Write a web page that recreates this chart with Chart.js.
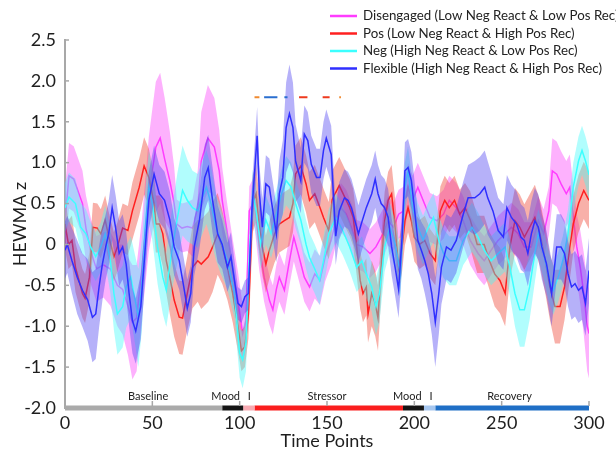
<!DOCTYPE html>
<html><head><meta charset="utf-8">
<script src="https://cdn.jsdelivr.net/npm/chart.js@4.4.1/dist/chart.umd.min.js"></script>
<style>html,body{margin:0;padding:0;background:#fff;}canvas{display:block;}</style>
</head><body>
<canvas id="c" width="616" height="452" style="width:616px;height:452px"></canvas>
<script>
// ---------- DATA ----------
const seriesNames = ['Disengaged (Low Neg React & Low Pos Rec)','Pos (Low Neg React & High Pos Rec)','Neg (High Neg React & Low Pos Rec)','Flexible (High Neg React & High Pos Rec)'];

const disT = [0,2.3,5,8,10,12,15,18,22,26, 30,33,36,38.6,41,44,48,52,54.5,57, 60,62.5,64,67,70,73,76,78,81.8,85.5, 88.3,90,93,96,99,101.7,103.6,105.5,108.4,111.3, 114,117,119,121,122.7,125.6,128.5,131,134,137, 140,143,146,149,152.4,155,158,161,164,167, 170.6,174.6,178,182,185,188,191,194,196.4,199, 202,205,209,213,216.7,220,224,228,232,236.5, 240,244,248,252,255.6,259.5,263,267,271,274, 277,279,281.5,284,287,289,291,293,295,297, 299,300];
const disV = [0.29,0.84,0.8,0.62,0.5,0.2,-0.1,-0.3,-0.25,-0.3, -0.5,-0.55,-0.75,-0.95,-0.9,-0.3,0.62,1.19,1.3,1.05, 0.78,0.5,0.25,0.2,0.22,0.2,0.45,1.02,1.3,1.19, 0.9,0.54,0.13,-0.28,-0.68,-1.09,-0.93,0.41,0.54,-0.03, -0.4,-0.68,-0.8,-0.55,-0.4,-0.56,-0.2,0.09,-0.15,-0.4, -0.52,-0.36,-0.44,-0.15,0.05,0.29,0.45,0.37,0.2,0.0, -0.03,-0.11,-0.03,0.13,0.29,0.21,0.37,0.41,0.7,0.54, 0.7,0.54,0.33,0.29,0.37,0.54,0.45,0.29,0.05,-0.11, -0.2,-0.07,0.05,0.13,0.21,0.13,-0.03,-0.03,0.29,0.13, 0.41,0.9,0.86,0.74,0.62,0.7,0.33,-0.03,-0.28,-0.6, -1.0,-1.09];
const disErr = [0.4,0.4,0.4,0.4,0.4,0.4,0.4,0.4,0.4,0.45, 0.5,0.55,0.6,0.7,0.65,0.6,0.7,0.8,0.8,0.75, 0.6,0.45,0.3,0.3,0.3,0.35,0.45,0.6,0.65,0.6, 0.5,0.4,0.35,0.35,0.35,0.35,0.35,0.3,0.3,0.3, 0.3,0.3,0.3,0.3,0.3,0.3,0.3,0.3,0.3,0.3, 0.3,0.3,0.3,0.3,0.3,0.3,0.3,0.3,0.3,0.3, 0.3,0.3,0.3,0.3,0.3,0.3,0.3,0.3,0.3,0.3, 0.3,0.3,0.3,0.3,0.3,0.3,0.3,0.3,0.3,0.3, 0.3,0.3,0.3,0.3,0.3,0.3,0.3,0.3,0.3,0.3, 0.3,0.4,0.4,0.4,0.4,0.4,0.4,0.4,0.45,0.5, 0.55,0.55];

const posT = [0,2,4,6,10,11.5,14,16,18.5,20.5, 23,25,28,30,33,36,38.6,42.5,45.3,48, 51,52,54,56,58,60,62.5,65.4,67.3,70, 73,76,78,82,84.5,87.4,90,93,96,99, 101,103,105,107.5,109.4,111.3,113,115,117,120, 122.7,125.6,128.5,130.5,132,135,138,140,143,146, 148,151,153,157,161,163,165,167,169,170.6, 172.5,173.5,175.6,177.6,179.2,181,183,185,187,189, 191,193,194.6,196.4,198.3,200,203,206,209,212, 214.9,217.4,220,223,226,229,232,236,240,243, 246,249,252,254.7,257.6,260.4,263,266,269,272, 275,277.6,280.5,283.4,286,289,291,294,297,300];
const posV = [0.25,0.0,0.05,-0.28,-0.6,-0.66,-0.4,0.21,0.2,0.13, 0.3,0.1,-0.15,-0.03,0.2,0.17,0.41,0.7,0.96,0.82, 0.5,0.25,0.25,0.13,-0.2,-0.4,-0.68,-0.89,-0.9,-0.6, -0.28,-0.2,-0.24,-0.15,-0.03,0.13,-0.03,-0.28,-0.6,-1.0, -1.3,-1.25,-0.85,0.5,0.62,0.21,-0.03,-0.24,-0.07,0.13, 0.25,0.29,0.33,0.5,0.86,0.96,0.74,0.54,0.62,0.45, 0.33,0.17,0.55,0.72,0.54,0.45,0.33,-0.03,-0.44,-0.6, -0.52,-0.85,-0.6,-0.72,-0.9,-0.28,0.29,0.54,0.62,0.21, -0.28,-0.03,0.29,0.45,0.29,0.09,0.0,0.05,-0.11,-0.2, 0.41,0.54,0.45,0.54,0.37,0.45,0.3,0.0,0.0,-0.2, -0.36,-0.44,-0.6,-0.03,0.29,0.21,0.09,0.21,0.33,0.13, -0.2,-0.52,-0.76,-0.76,-0.52,-0.03,0.25,0.5,0.66,0.54];
const posErr = [0.3,0.3,0.3,0.3,0.3,0.3,0.3,0.3,0.3,0.3, 0.3,0.3,0.3,0.3,0.3,0.3,0.35,0.35,0.35,0.35, 0.35,0.35,0.35,0.4,0.4,0.45,0.45,0.45,0.45,0.45, 0.5,0.5,0.55,0.55,0.55,0.5,0.45,0.4,0.35,0.3, 0.25,0.25,0.3,0.35,0.35,0.35,0.35,0.35,0.35,0.35, 0.35,0.35,0.35,0.35,0.35,0.35,0.35,0.35,0.35,0.35, 0.35,0.35,0.35,0.35,0.35,0.35,0.35,0.35,0.35,0.35, 0.35,0.35,0.4,0.4,0.4,0.35,0.35,0.35,0.35,0.35, 0.3,0.3,0.3,0.3,0.3,0.3,0.3,0.3,0.3,0.3, 0.3,0.3,0.3,0.3,0.3,0.3,0.35,0.35,0.35,0.35, 0.4,0.4,0.4,0.4,0.4,0.4,0.4,0.4,0.4,0.4, 0.4,0.4,0.45,0.45,0.4,0.4,0.35,0.35,0.35,0.35];

const negT = [0,2.3,6,9,12,14.7,17.6,20.5,23,26, 28,30,33,35,37.7,40.5,42,44,46,48, 50,53,56,58,61.5,64.4,67.3,70,73,76, 78,81,83.6,86.4,89,93,97,100,101.7,103.6, 105.5,107.5,109.4,112,115,118,121,124,126.6,129.5, 132,135,138,140,143,145.7,148,151,155,159, 163,167,170,172.5,175.6,178,180,183,186,189, 192,194.6,196.4,199,202,205,208,211,214,216.7, 220,224,228,233,236.5,240,244,248,252,254.7, 257.6,260.4,263,266,269,271,274,277,279.6,282.4, 285,288,291,294,296,298,300];
const negV = [0.45,0.58,0.5,0.21,0.13,-0.03,-0.15,-0.03,0.13,-0.2, -0.6,-0.85,-0.76,-0.52,-0.4,-0.72,-0.9,-0.5,0.2,0.7, 0.5,-0.03,-0.4,-0.56,-0.03,0.33,0.66,0.54,0.45,0.41, 0.54,0.7,0.5,0.21,0.05,-0.2,-0.6,-1.33,-1.41,-1.2, -0.2,0.62,0.41,0.0,0.3,0.13,0.37,0.62,0.78,0.7, 0.5,0.3,0.0,-0.16,-0.3,-0.44,-0.2,0.13,0.33,0.17, -0.03,-0.28,-0.2,-0.36,-0.52,-0.76,-0.6,-0.03,0.21,0.0, -0.36,0.7,0.9,0.45,0.21,0.05,0.21,0.33,0.05,-0.11, -0.2,-0.2,0.05,0.21,0.09,-0.07,-0.2,-0.11,-0.03,-0.28, -0.6,-0.8,-0.8,-0.52,-0.11,0.13,-0.11,-0.4,-0.56,-0.4, -0.2,0.13,0.7,1.02,1.15,1.02,0.85];
const negErr = [0.3,0.3,0.3,0.3,0.3,0.3,0.3,0.3,0.35,0.4, 0.45,0.5,0.5,0.5,0.5,0.55,0.6,0.55,0.45,0.45, 0.45,0.45,0.45,0.45,0.5,0.55,0.55,0.5,0.45,0.45, 0.45,0.45,0.45,0.4,0.4,0.35,0.3,0.3,0.35,0.35, 0.35,0.3,0.3,0.3,0.3,0.3,0.3,0.3,0.3,0.3, 0.3,0.3,0.3,0.3,0.3,0.3,0.3,0.3,0.3,0.3, 0.3,0.3,0.3,0.3,0.3,0.35,0.35,0.3,0.3,0.3, 0.3,0.3,0.3,0.3,0.3,0.3,0.3,0.3,0.3,0.3, 0.3,0.3,0.3,0.3,0.3,0.3,0.3,0.3,0.3,0.35, 0.4,0.45,0.45,0.4,0.35,0.3,0.3,0.3,0.3,0.3, 0.3,0.3,0.3,0.3,0.3,0.3,0.3];

const flxT = [0,1.3,4,7,10,13,15.7,17.6,19.5,21.4, 23.3,25,27,29,31,33,35,36.7,38.6,40.5, 43.4,46,48,51,54,57,60,62.5,65.4,68, 70,72,74,77,80,82,84.5,87.4,90,93, 95,97,99,101,103,105,107,110,111.3,113, 115,117,119,121,122.7,124.7,126.6,128.5,130.5,132, 135,137,139,141,144,146,148,149.6,152.4,155, 157,160,162,164,166,168,169.6,172.5,175.6,177.6, 179.2,181,183,185,187,189,191,193,194.6,196.4, 198.3,200,202,204,206,208,210,212,214,215.5, 218.4,221,224,228,230.8,234.6,237.5,240.3,242,245, 248,251,253,255.6,258.5,261,263,265,267,269, 271,273,275.7,278.6,281.5,284,286,288,290,292, 294,296,298,300];
const flxV = [-0.07,0.0,-0.2,-0.4,-0.56,-0.68,-0.89,-0.85,-0.52,-0.24, -0.03,0.13,0.45,0.2,-0.11,-0.03,-0.24,-0.6,-0.93,-1.06, -0.76,-0.03,0.54,0.86,0.62,0.54,0.3,-0.03,-0.2,-0.52, -0.78,-0.6,-0.03,0.3,0.82,0.94,0.54,0.13,0.0,-0.28, -0.15,-0.44,-0.72,-0.76,-0.64,-0.6,0.41,1.33,0.62,0.21, 0.74,0.7,0.41,0.13,0.62,0.82,1.43,1.6,1.43,1.02, 0.78,1.35,1.27,0.98,0.82,0.82,1.15,1.3,1.1,0.1, 0.41,0.57,0.54,0.45,0.29,0.13,0.25,0.45,0.62,0.8, 0.62,0.5,0.45,0.33,-0.03,-0.28,-0.55,0.09,0.9,0.94, 0.78,0.45,0.05,-0.07,-0.2,-0.36,-0.6,-0.95,-0.6,-0.28, -0.03,-0.07,0.05,0.37,0.57,0.57,0.62,0.7,0.57,0.41, 0.17,0.09,0.45,0.33,0.25,0.09,0.05,-0.11,0.13,0.29, 0.21,-0.03,-0.24,-0.6,-0.03,-0.03,-0.11,-0.36,-0.52,-0.48, -0.56,-0.52,-0.72,-0.32];
const flxErr = [0.35,0.35,0.4,0.45,0.45,0.5,0.55,0.55,0.5,0.45, 0.4,0.4,0.4,0.4,0.4,0.4,0.4,0.4,0.4,0.4, 0.4,0.35,0.35,0.35,0.35,0.35,0.35,0.35,0.35,0.35, 0.35,0.35,0.35,0.35,0.4,0.4,0.4,0.35,0.3,0.3, 0.3,0.25,0.2,0.2,0.2,0.2,0.3,0.35,0.35,0.35, 0.35,0.35,0.35,0.35,0.4,0.45,0.55,0.6,0.55,0.45, 0.4,0.35,0.35,0.35,0.35,0.35,0.35,0.35,0.35,0.35, 0.35,0.35,0.35,0.35,0.35,0.35,0.35,0.35,0.35,0.35, 0.35,0.35,0.35,0.35,0.35,0.35,0.35,0.35,0.35,0.35, 0.35,0.35,0.35,0.35,0.4,0.45,0.5,0.55,0.5,0.45, 0.4,0.4,0.4,0.4,0.4,0.45,0.45,0.45,0.45,0.4, 0.4,0.4,0.4,0.4,0.4,0.4,0.4,0.4,0.4,0.4, 0.4,0.4,0.4,0.4,0.4,0.4,0.4,0.4,0.4,0.4, 0.4,0.4,0.4,0.4];

// phases along the time axis
const phaseStart = [0, 90, 102, 108.5, 193.5, 205.5, 212];
const phaseEnd   = [90, 102, 108.5, 193.5, 205.5, 212, 300];
const phaseLabels = ['Baseline', 'Mood', 'I', 'Stressor', 'Mood', 'I', 'Recovery'];
const phaseLabelT = [47.6, 92, 105.5, 150, 196, 209.5, 254.5];
const xTickValues = [0, 50, 100, 150, 200, 250, 300];

// significance markers
const sigLevel = 1.8;
const sigStart = [108.5, 114, 125.6, 134, 147.5, 157];
const sigEnd   = [111.3, 121.6, 127.4, 138.8, 151.5, 158];

// ---------- STYLES ----------
const lineColors = ['#ff3cff', '#ff2020', '#3cffff', '#2f2fff'];
const bandColors = ['rgba(250,70,250,0.42)', 'rgba(240,80,65,0.45)', 'rgba(70,250,250,0.42)', 'rgba(80,70,240,0.42)'];
const phaseColors = ['#aaaaaa', '#151515', '#f7aab2', '#fa1e1e', '#151515', '#a7c7ef', '#1f6fc6'];
const sigColors = ['#f08a30', '#2a6fd0', '#2a6fd0', '#ee3a1e', '#ee3a1e', '#f08a30'];
const FONT = 'Lato';
Chart.defaults.font.family = FONT;

const pts = (T, V) => T.map((t, i) => ({x: t, y: V[i]}));
const allSeries = [[disT, disV, disErr], [posT, posV, posErr], [negT, negV, negErr], [flxT, flxV, flxErr]];

const datasets = [];
allSeries.forEach(([T, V, E], s) => {
  const base = 20 - s * 4; // later series drawn on top
  datasets.push({label: seriesNames[s], data: pts(T, V), borderColor: lineColors[s], borderWidth: 1.5,
    pointRadius: 0, fill: false, order: base - 1});
  const upIdx = datasets.length;
  datasets.push({label: '_up' + s, data: pts(T, V.map((v, i) => v + E[i])), borderWidth: 0, borderColor: 'rgba(0,0,0,0)',
    pointRadius: 0, fill: false, order: base});
  datasets.push({label: '_lo' + s, data: pts(T, V.map((v, i) => v - E[i])), borderWidth: 0, borderColor: 'rgba(0,0,0,0)',
    pointRadius: 0, fill: {target: upIdx}, backgroundColor: bandColors[s], order: base});
});
phaseStart.forEach((a, i) => {
  datasets.push({label: '_ph' + i, data: [{x: a, y: -2}, {x: phaseEnd[i], y: -2}], borderColor: phaseColors[i],
    borderWidth: 5, borderCapStyle: 'butt', pointRadius: 0, fill: false, clip: false, order: -2});
});
sigStart.forEach((a, i) => {
  datasets.push({label: '_sig' + i, data: [{x: a, y: sigLevel}, {x: sigEnd[i], y: sigLevel}], borderColor: sigColors[i],
    borderWidth: 2, pointRadius: 0, fill: false, order: -2});
});

const extras = {
  id: 'extras',
  afterDraw(chart) {
    const ctx = chart.ctx, xs = chart.scales.x, ys = chart.scales.y;
    ctx.save();
    ctx.strokeStyle = '#a8a8a8'; ctx.lineWidth = 1.5;
    ys.ticks.forEach(t => {
      const y = ys.getPixelForValue(t.value);
      ctx.beginPath(); ctx.moveTo(xs.left, y); ctx.lineTo(xs.left + 4, y); ctx.stroke();
    });
    xTickValues.forEach(v => {
      const x = xs.getPixelForValue(v);
      ctx.beginPath(); ctx.moveTo(x, ys.bottom - 2); ctx.lineTo(x, ys.bottom - 7); ctx.stroke();
    });
    ctx.fillStyle = '#222'; ctx.font = '11px ' + FONT; ctx.textAlign = 'center'; ctx.textBaseline = 'middle';
    phaseLabels.forEach((txt, i) => ctx.fillText(txt, xs.getPixelForValue(phaseLabelT[i]), ys.bottom - 12));
    ctx.font = '13.3px ' + FONT; ctx.textAlign = 'left';
    seriesNames.forEach((name, i) => {
      const y = 16 + i * 17.5;
      ctx.strokeStyle = lineColors[i]; ctx.lineWidth = 2.5;
      ctx.beginPath(); ctx.moveTo(330, y); ctx.lineTo(357, y); ctx.stroke();
      ctx.fillStyle = '#222'; ctx.fillText(name, 363, y);
    });
    ctx.restore();
  }
};

new Chart(document.getElementById('c'), {
  type: 'line',
  data: {datasets},
  options: {
    responsive: false, animation: false, devicePixelRatio: 1,
    parsing: false, normalized: true,
    layout: {padding: {top: 40, right: 27, left: 0, bottom: 0}},
    plugins: {legend: {display: false}, tooltip: {enabled: false}, filler: {propagate: false}},
    elements: {line: {tension: 0}},
    scales: {
      x: {type: 'linear', min: 0, max: 300,
        afterBuildTicks: s => { s.ticks = xTickValues.map(v => ({value: v})); },
        ticks: {font: {size: 18}, color: '#1e1e1e', padding: 4, maxRotation: 0},
        grid: {display: false, drawTicks: false}, border: {display: false},
        title: {display: true, text: 'Time Points', font: {size: 18}, color: '#1e1e1e', padding: {top: 0, bottom: 0}},
        afterFit: s => { s.height = 44; }},
      y: {type: 'linear', min: -2, max: 2.5,
        ticks: {stepSize: 0.5, font: {size: 18}, color: '#1e1e1e', padding: 9,
          callback: v => (Math.abs(v) < 1e-9 ? '0' : v.toFixed(1))},
        grid: {display: false, drawTicks: false}, border: {display: true, color: '#a8a8a8', width: 2},
        title: {display: true, text: 'HEWMA z', font: {size: 18}, color: '#1e1e1e', padding: {top: 9, bottom: 0}},
        afterFit: s => { s.width = 65; }}
    }
  },
  plugins: [extras]
});
</script>
</body></html>
